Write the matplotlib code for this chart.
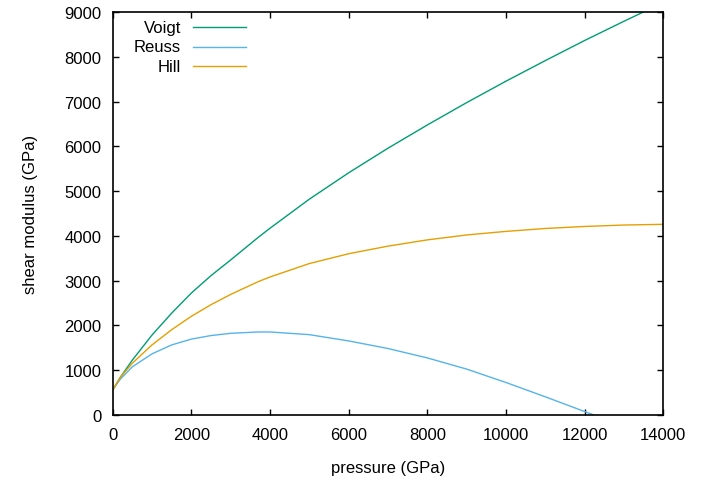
import numpy as np
import matplotlib
matplotlib.use('Agg')
import matplotlib.pyplot as plt

# values (pressure in GPa, shear modulus in GPa)
pressure = [0, 200, 500, 1000, 1500, 2000, 2500, 3000, 3700, 4000, 5000, 6000,
            7000, 8000, 9000, 10000, 11000, 12000, 13000, 14000]
voigt = [550, 840, 1220, 1780, 2270, 2720, 3110, 3460, 3965, 4170, 4820, 5410,
         5960, 6480, 6980, 7460, 7920, 8370, 8800, 9220]
reuss = [550, 800, 1070, 1360, 1560, 1690, 1770, 1820, 1850, 1850, 1790, 1650,
         1480, 1270, 1020, 720, 400, 70, -260, -600]
hill = [550, 840, 1150, 1560, 1900, 2200, 2460, 2690, 2975, 3080, 3380, 3600,
        3770, 3910, 4020, 4100, 4165, 4210, 4242, 4258]

series = [('Voigt', voigt, '#009e73'),
          ('Reuss', reuss, '#56b4e9'),
          ('Hill', hill, '#e69f00')]

plt.rcParams['font.family'] = ['Liberation Sans', 'DejaVu Sans']
plt.rcParams['font.size'] = 12

fig = plt.figure(figsize=(7.22, 4.81), dpi=100)
ax = fig.add_axes([0.156, 0.1358, 0.7627, 0.8365])

for name, vals, col in series:
    ax.plot(pressure, vals, color=col, lw=1.0)

ax.set_xlim(0, 14000)
ax.set_ylim(0, 9000)
ax.set_xticks(np.arange(0, 14001, 2000))
ax.set_yticks(np.arange(0, 9001, 1000))
ax.tick_params(direction='in', length=4, width=1, top=True, right=True,
               labelsize=12)
ax.tick_params(axis='x', pad=9)
ax.tick_params(axis='y', pad=8)
for sp in ax.spines.values():
    sp.set_linewidth(1.2)

ax.set_xlabel('pressure (GPa)', fontsize=12, labelpad=13)
ax.set_ylabel('shear modulus (GPa)', fontsize=12, labelpad=19)

# gnuplot-style key: right-aligned names followed by line samples
tr = ax.transAxes
x0, x1, xt = (193.3 - 112.7) / 550.6, (245.7 - 112.7) / 550.6, (181 - 112.7) / 550.6
for i, (name, vals, col) in enumerate(series):
    yy = 1 - (28.3 + 19.4 * i - 13.3) / 402.4
    ax.plot([x0, x1], [yy, yy], color=col, lw=1.0, transform=tr)
    ax.text(xt, yy, name, ha='right', va='center', fontsize=12, transform=tr)

fig.savefig('out.png', dpi=100)
